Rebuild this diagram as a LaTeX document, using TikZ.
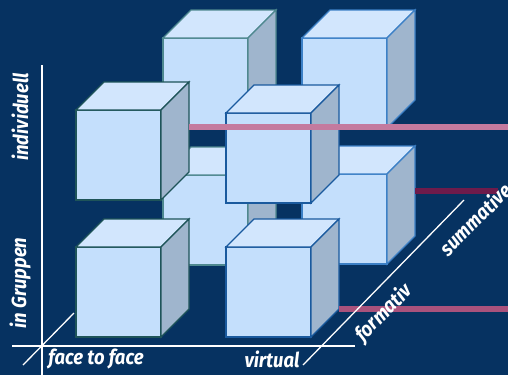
\documentclass[tikz,border=0pt]{standalone}
\usepackage{fontspec}
\setmainfont{Fira Sans}
\newfontfamily\labfont[FakeStretch=0.9]{Fira Sans}
\usetikzlibrary{calc}
\definecolor{bgblue}{RGB}{6,50,97}
\definecolor{cubefront}{RGB}{196,223,252}
\definecolor{cubetop}{RGB}{210,230,253}
\definecolor{cubeside}{RGB}{159,181,205}
\definecolor{tealdark}{RGB}{30,84,89}
\definecolor{teallight}{RGB}{78,136,143}
\definecolor{bluedark}{RGB}{26,90,158}
\definecolor{bluelight}{RGB}{60,128,198}
\definecolor{barpink}{RGB}{196,122,158}
\definecolor{barrose}{RGB}{169,82,124}
\definecolor{barwine}{RGB}{110,27,75}
\tikzset{
	face/.style={line width=1.2pt, line join=miter},
	axis/.style={white, line width=1.3pt},
	lab/.style={white, inner sep=0pt, font=\labfont\fontsize{20.5}{20.5}\selectfont\bfseries\itshape},
	bar/.style={line width=6pt},
}

\begin{document}
\begin{tikzpicture}[x=1pt,y=-1pt]
				\newcommand \DrawCube [4] {
					\filldraw[face, draw=#4, fill=cubefront] (#2,#3) rectangle ++(85,90);
					\filldraw[face, draw=#4, fill=cubetop] (#2,#3) -- ++(28,-28) -- ++(85,0) -- ++(-28,28) -- cycle;
					\filldraw[face, draw=#4, fill=cubeside] (#2,#3) ++(85,0) -- ++(28,-28) -- ++(0,90) -- ++(-28,28) -- cycle;
					\path (#2,#3) ++(113,-28) coordinate (#1-tr) ++(0,90) coordinate (#1-br);
				};
				\fill[bgblue] (0,0) rectangle (508,375);
				\useasboundingbox (0,0) rectangle (508,375);
				% back cubes
				\DrawCube{E}{163}{38}{teallight}
				\DrawCube{G}{302}{38}{bluelight}
				\DrawCube{F}{163}{175}{teallight}
				\DrawCube{H}{302}{174}{bluelight}
				% front cubes
				\DrawCube{A}{76}{110}{tealdark}
				\DrawCube{B}{226}{113}{bluedark}
				\DrawCube{C}{76}{247}{tealdark}
				\DrawCube{D}{226}{247}{bluedark}
				% bars
				\coordinate (east) at (508,0);
				\coordinate (wineend) at (498,0);
				\coordinate (a) at ($(A-tr)!0.5!(A-br)$);
				\coordinate (h) at ($(H-tr)!0.5!(H-br)$);
				\draw[bar, barpink] (a) -- (a -| east);
				\draw[bar, barwine] (h) -- (h -| wineend);
				\draw[bar, barrose] (D-br) -- (D-br -| east);
				% axes
				\coordinate (o) at (42,346);
				\coordinate (up) at (42,65);
				\coordinate (down) at (42,375);
				\coordinate (left) at (12,346);
				\coordinate (right) at (355,346);
				\coordinate (d1a) at (23,365);
				\coordinate (d1b) at (74,313);
				\coordinate (d2a) at (303,365);
				\coordinate (d2b) at (464,200);
				\draw[axis] (down) -- (up);
				\draw[axis] (left) -- (right);
				\draw[axis] (d1a) -- (d1b);
				\draw[axis] (d2a) -- (d2b);
				% labels
				\node[lab, rotate=90] (indiv) at (20,117) {individuell};
				\node[lab, rotate=90] (gruppe) at (20,283) {in Gruppen};
				\node[lab] (ftf) at (96,359) {face to face};
				\node[lab] (virt) at (272,359) {virtual};
				\node[lab, rotate=45] (form) at (384,313) {formativ};
				\node[lab, rotate=45] (summ) at (475,219) {summative};
			\end{tikzpicture}
\end{document}
